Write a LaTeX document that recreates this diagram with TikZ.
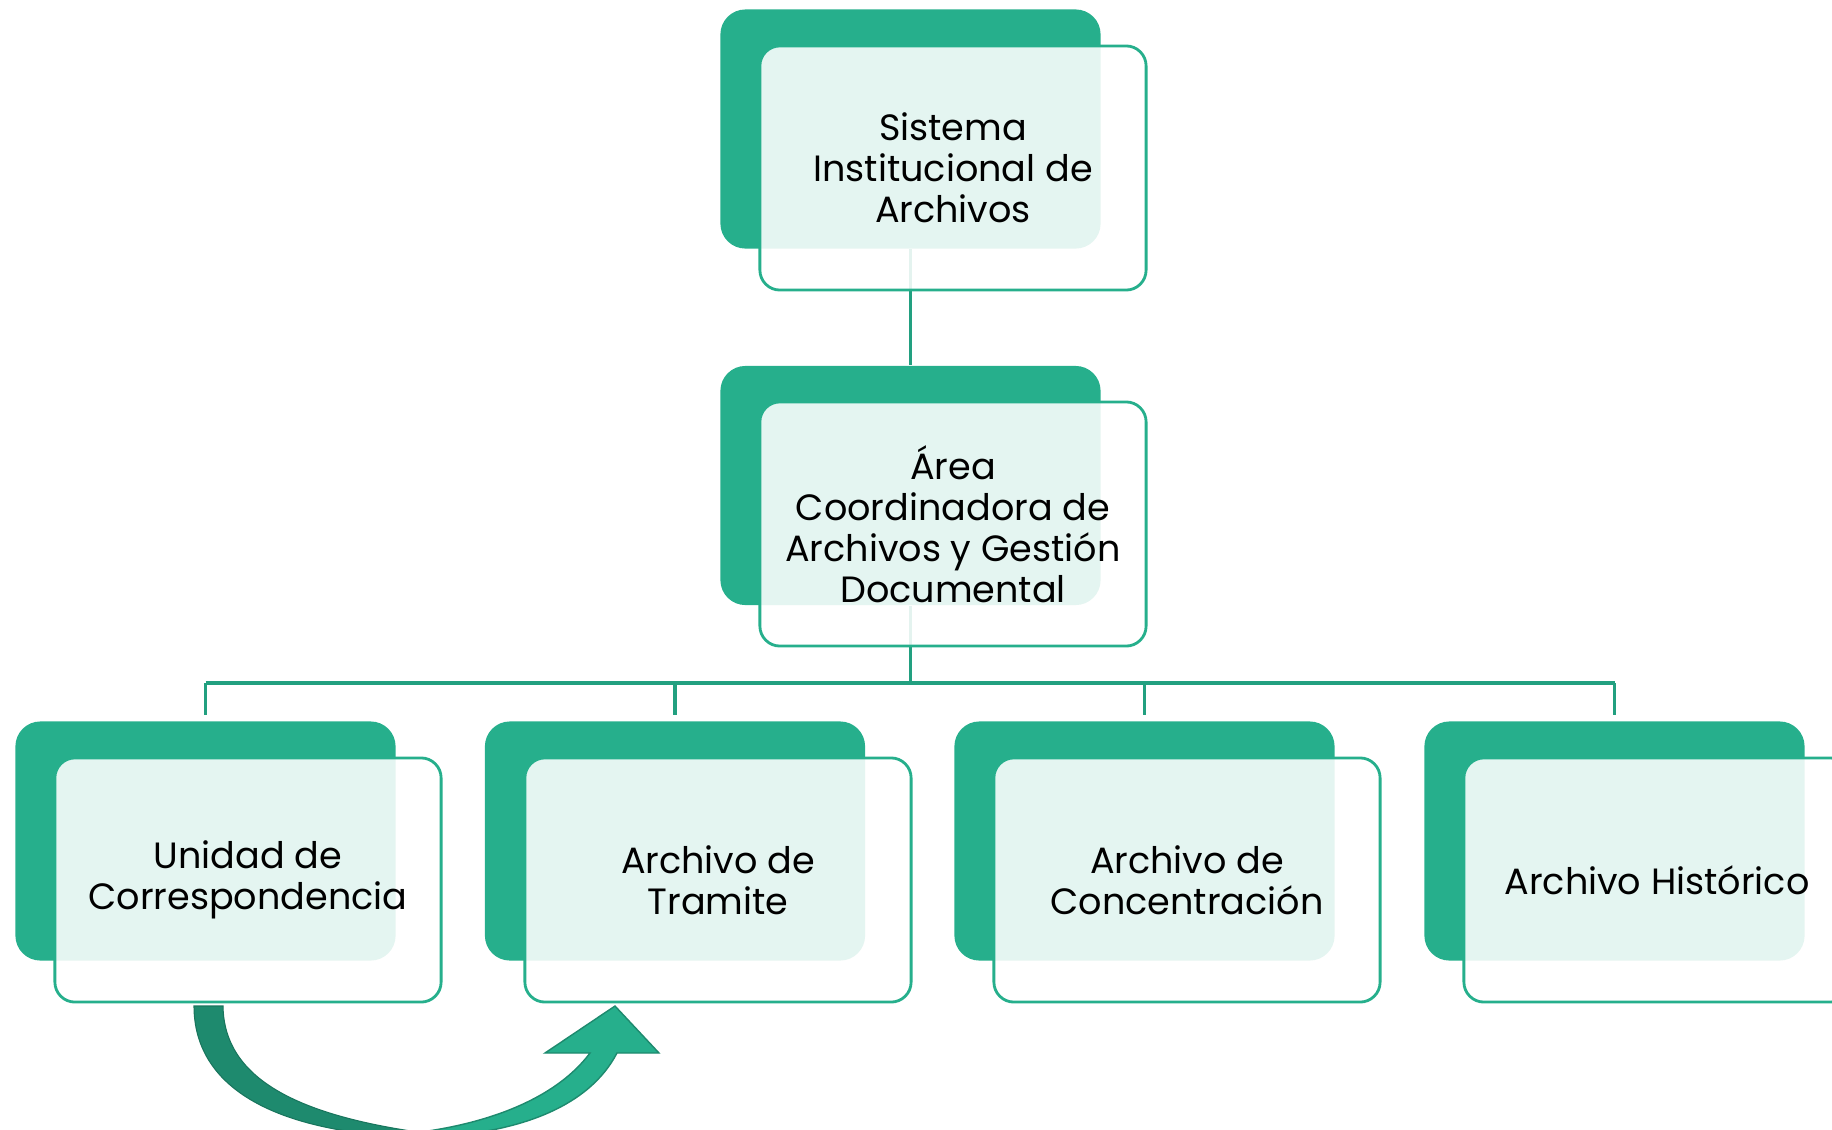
\documentclass[tikz,border=0pt]{standalone}
\usepackage{fontspec}
\setmainfont{Poppins}
\usepackage{xcolor}
\usetikzlibrary{shapes,arrows,positioning,calc}
\definecolor{boxgreen}{RGB}{38,175,140}
\definecolor{darkgreen}{RGB}{30,138,110}
\definecolor{linegreen}{RGB}{34,160,128}

\tikzset{
  backbox/.style={rectangle, rounded corners=0.25cm, fill=boxgreen, minimum width=3.8cm, minimum height=2.39cm},
  frontbox/.style={rectangle, rounded corners=0.2cm, draw=boxgreen, line width=0.8pt, fill=white, fill opacity=0.88, text opacity=1, minimum width=3.86cm, minimum height=2.44cm, align=center, font=\fontsize{10.4}{11.7}\selectfont},
  link/.style={draw=linegreen, line width=1pt}
}

\begin{document}
\begin{tikzpicture}[x=0.01cm, y=-0.01cm]
\useasboundingbox (0,0) rectangle (1832,1130);

% back boxes
\node[backbox] (sis) at (910.5,129) {};
\node[backbox] (area) at (910.5,485.5) {};
\node[backbox] (uni) at (205.5,841) {};
\node[backbox] (tra) at (675,841) {};
\node[backbox] (con) at (1144.5,841) {};
\node[backbox] (his) at (1614.5,841) {};

% connectors
\coordinate (bus) at (910.5,683);
\draw[link] (sis.south) -- (area.north);
\draw[link] (area.south) -- (bus);
\draw[link] (bus -| uni) -- (bus -| his);
\draw[link, shorten >=0.06cm] (bus -| uni) -- (uni.north);
\draw[link, shorten >=0.06cm] (bus -| tra) -- (tra.north);
\draw[link, shorten >=0.06cm] (bus -| con) -- (con.north);
\draw[link, shorten >=0.06cm] (bus -| his) -- (his.north);

% curved arrow from Unidad to Tramite
\fill[darkgreen, draw=darkgreen!85!black, line width=0.3pt]
  (194,1006) .. controls (194,1085) and (270,1137) .. (440,1138)
  -- (440,1135) .. controls (300,1118) and (224,1080) .. (223,1006) -- cycle;
\fill[boxgreen, draw=darkgreen, line width=0.4pt]
  (400,1138) .. controls (520,1138) and (590,1105) .. (617,1053)
  -- (659,1053) -- (615,1006) -- (545,1053) -- (590,1053)
  .. controls (555,1100) and (480,1130) .. (380,1136) -- cycle;

% front boxes
\node[frontbox] (sisF) at (953,168) {Sistema\\Institucional de\\Archivos};
\node[frontbox] (areaF) at (953,524) {Área\\Coordinadora de\\Archivos y Gestión\\Documental};
\node[frontbox] (uniF) at (248,880) {Unidad de\\Correspondencia};
\node[frontbox] (traF) at (718,880) {Archivo de\\Tramite};
\node[frontbox] (conF) at (1187,880) {Archivo de\\Concentración};
\node[frontbox] (hisF) at (1657,880) {Archivo Histórico};
\end{tikzpicture}
\end{document}
